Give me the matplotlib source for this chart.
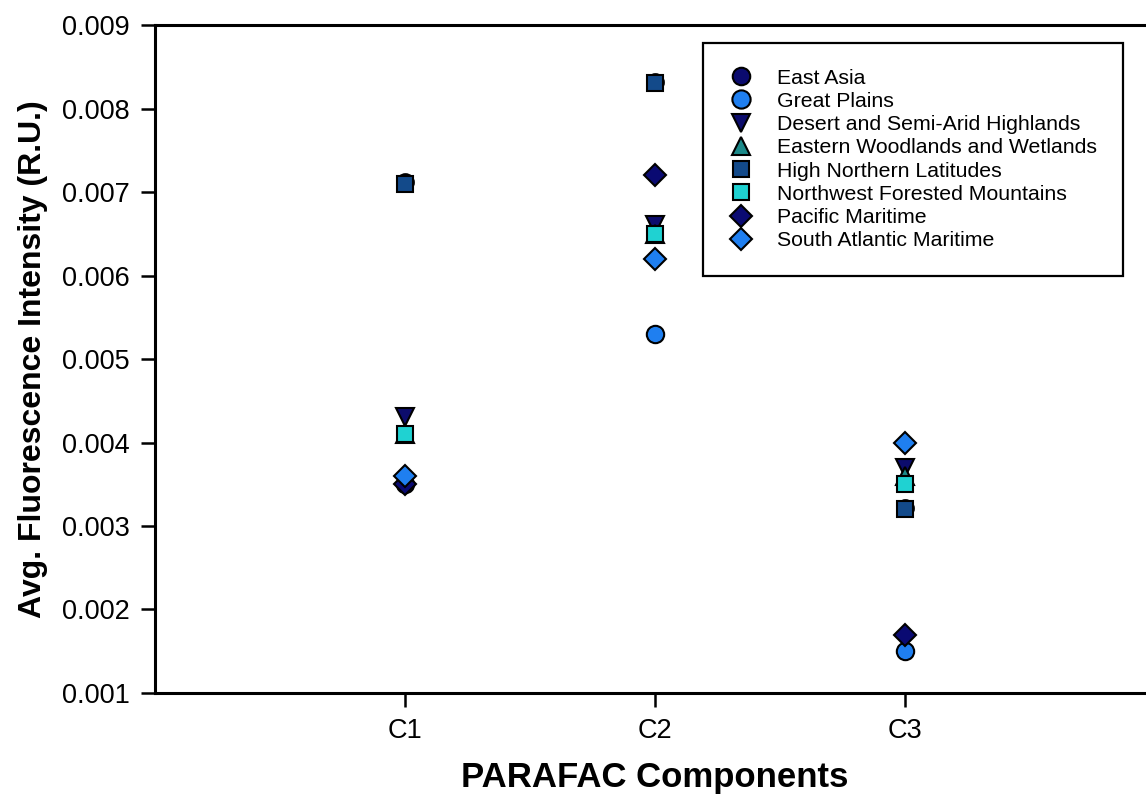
import matplotlib
matplotlib.use("Agg")
import matplotlib.pyplot as plt
from matplotlib.lines import Line2D

plt.rcParams['font.family'] = ['Liberation Sans', 'DejaVu Sans']

components = ['C1', 'C2', 'C3']
regions = ['East Asia', 'Great Plains', 'Desert and Semi-Arid Highlands',
           'Eastern Woodlands and Wetlands', 'High Northern Latitudes',
           'Northwest Forested Mountains', 'Pacific Maritime', 'South Atlantic Maritime']

east_asia = [0.00712, 0.00832, 0.00322]
great_plains = [0.0035, 0.0053, 0.0015]
desert = [0.0043, 0.0066, 0.0037]
eastern_woodlands = [0.0041, 0.0065, 0.0036]
high_northern = [0.0071, 0.0083, 0.0032]
northwest = [0.0041, 0.0065, 0.0035]
pacific = [0.0035, 0.0072, 0.0017]
south_atlantic = [0.0036, 0.0062, 0.0040]

series = [east_asia, great_plains, desert, eastern_woodlands,
          high_northern, northwest, pacific, south_atlantic]
markers = ['o', 'o', 'v', '^', 's', 's', 'D', 'D']
sizes = [12, 12.5, 12.5, 12.5, 11.5, 11.5, 11, 11]
colors = ['#0b0b6e', '#1f7ff0', '#0c0c6c', '#1c8a8a', '#134a8a', '#1fd2d2', '#0a0a72', '#1f7ff0']

fig = plt.figure(figsize=(11.46, 7.97), dpi=100)
ax = fig.add_axes([0.1353, 0.1305, 0.8726, 0.8381])

xs = [1, 2, 3]
for name, vals, m, ms, c in zip(regions, series, markers, sizes, colors):
    ax.plot(xs, vals, linestyle='none', marker=m, markersize=ms,
            markerfacecolor=c, markeredgecolor='black', markeredgewidth=1.5,
            label=name, clip_on=False)

ax.set_xlim(0, 4)
ax.set_ylim(0.001, 0.009)
ax.set_xticks(xs)
ax.set_xticklabels(components)
ax.set_yticks([0.001, 0.002, 0.003, 0.004, 0.005, 0.006, 0.007, 0.008, 0.009])
ax.set_yticklabels(['%.3f' % v for v in ax.get_yticks()])
ax.tick_params(direction='out', length=10, width=1.8, labelsize=19.5, pad=8)
ax.tick_params(axis='x', pad=8)
for s in ax.spines.values():
    s.set_linewidth(2.2)
ax.spines['right'].set_visible(False)

ax.set_xlabel('PARAFAC Components', fontsize=25, fontweight='bold', labelpad=12)
ax.set_ylabel('Avg. Fluorescence Intensity (R.U.)', fontsize=23, fontweight='bold', labelpad=10)

handles = [Line2D([], [], linestyle='none', marker=m, markersize=ms * 1.05,
                  markerfacecolor=c, markeredgecolor='black', markeredgewidth=1.5)
           for m, ms, c in zip(markers, sizes, colors)]
leg = fig.legend(handles, regions, loc='upper left', bbox_to_anchor=(0.6134, 0.946),
                 fontsize=15.3, frameon=True, fancybox=False, edgecolor='black',
                 labelspacing=0.2, handlelength=1.2, handletextpad=1.1,
                 borderpad=1.2, borderaxespad=0, framealpha=1)
leg.get_frame().set_linewidth(1.6)

fig.savefig('out.png', dpi=100)
